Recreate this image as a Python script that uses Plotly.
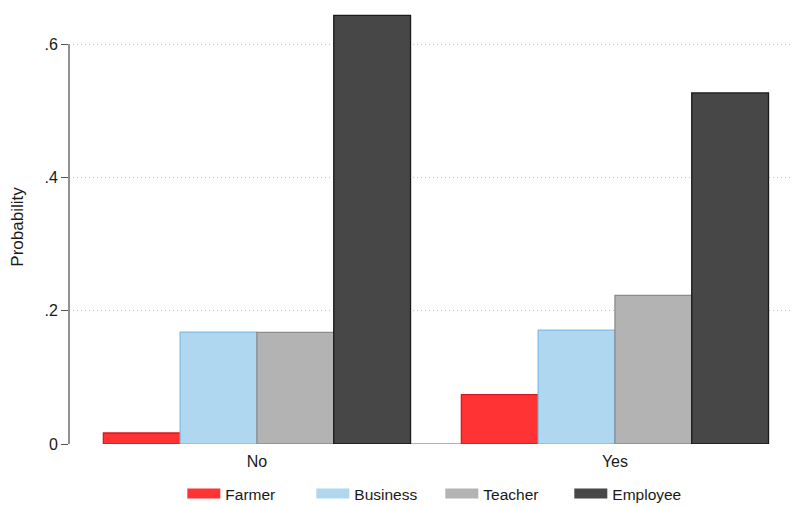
import plotly.graph_objects as go

groups = ["No", "Yes"]
series = ["Farmer", "Business", "Teacher", "Employee"]
farmer = [0.0165, 0.074]
business = [0.168, 0.171]
teacher = [0.1675, 0.223]
employee = [0.6435, 0.527]
values = [farmer, business, teacher, employee]
y_ticks = [0, 0.2, 0.4, 0.6]
y_tick_labels = ["0", ".2", ".4", ".6"]

fills = ["#ff3333", "#afd7f0", "#b3b3b3", "#474747"]
edges = ["#d9191f", "#80bde6", "#8c8c8c", "#1a1a1a"]

bargap = 0.142
xpos = list(range(len(groups)))

fig = go.Figure()
for name, vals, fc, ec in zip(series, values, fills, edges):
    fig.add_trace(go.Bar(
        x=xpos, y=vals, name=name, showlegend=False,
        marker=dict(color=fc, line=dict(color=ec, width=1.3)),
    ))
# legend entries drawn as wide rectangles (thick line segments)
for name, fc in zip(series, fills):
    fig.add_trace(go.Scatter(
        x=[None], y=[None], name=name, mode="lines",
        line=dict(color=fc, width=10), showlegend=True,
    ))

half = (1 - bargap) / 2
fig.add_shape(type="line", xref="x", yref="y",
              x0=xpos[0] - half, x1=xpos[-1] + half, y0=0, y1=0,
              line=dict(color="#9a9a9a", width=1.5), layer="below")
# y axis line spanning tick range only
fig.add_shape(type="line", xref="paper", yref="y",
              x0=0, x1=0, y0=y_ticks[0], y1=y_ticks[-1],
              line=dict(color="#555555", width=1.3))

fig.update_layout(
    barmode="group", bargap=bargap, bargroupgap=0,
    width=792, height=507,
    margin=dict(l=69, r=2, t=10, b=62.7),
    plot_bgcolor="white", paper_bgcolor="white",
    font=dict(family="Liberation Sans, Arial, sans-serif", size=16, color="#1a1a1a"),
    showlegend=True,
    legend=dict(orientation="h", x=0.515, xanchor="center",
                yref="container", y=1 - 494 / 507, yanchor="middle",
                font=dict(size=15.5), entrywidth=81, itemwidth=33,
                traceorder="normal"),
    xaxis=dict(tickvals=xpos, ticktext=groups, range=[-0.525, 1.489],
               showgrid=False, zeroline=False, showline=False, ticks="",
               tickfont=dict(size=16), automargin=False, ticklabelstandoff=6),
    yaxis=dict(title=dict(text="Probability", font=dict(size=17), standoff=16),
               range=[0, 0.6515], tickvals=y_ticks, ticktext=y_tick_labels,
               showgrid=True, gridcolor="#c4c4c4", griddash="1px,3px", gridwidth=1,
               zeroline=False, showline=False,
               ticks="outside", ticklen=7, tickcolor="#555555", tickwidth=1.3,
               tickfont=dict(size=16), automargin=False),
)

fig.write_html("out.html", config={"displayModeBar": False},
               post_script="document.body.style.margin='0px';")
